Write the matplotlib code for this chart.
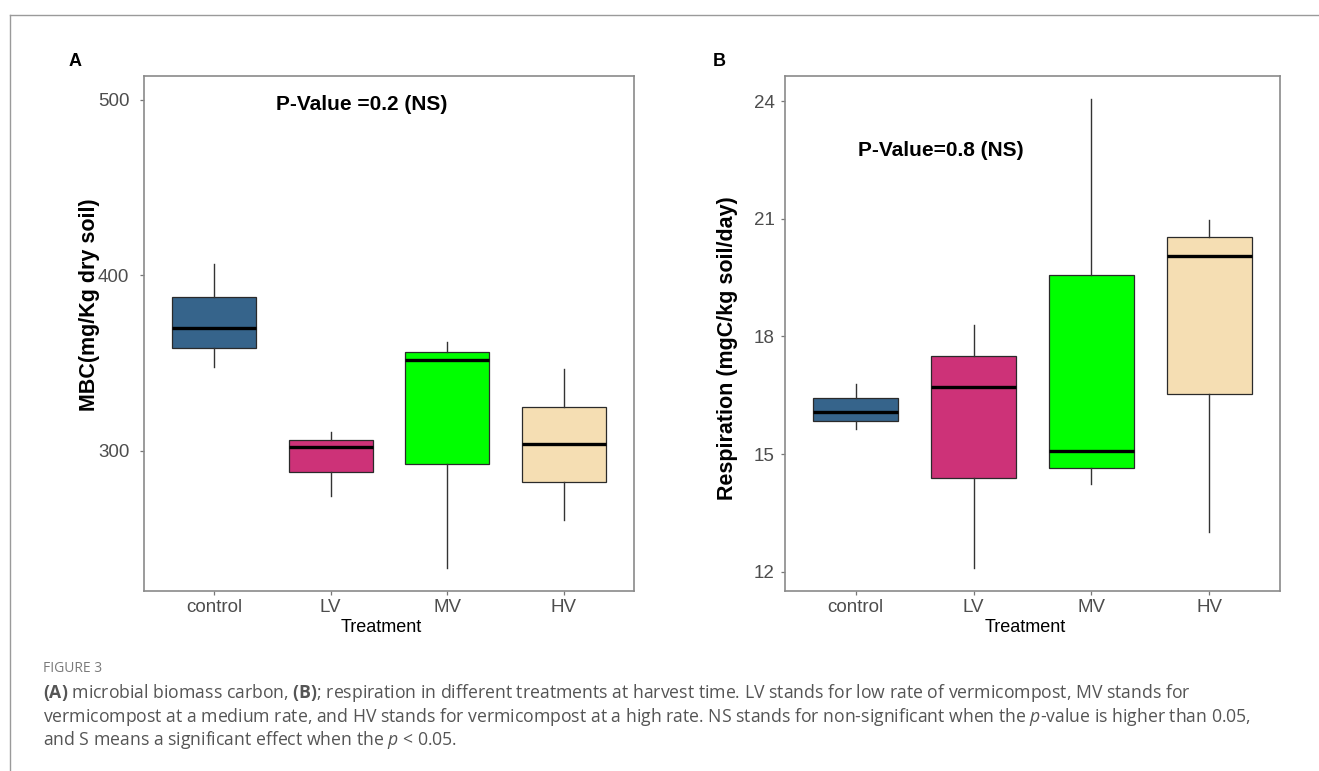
import matplotlib
matplotlib.use("Agg")
import matplotlib.pyplot as plt
from matplotlib import font_manager as fm
from matplotlib.lines import Line2D

# ---------------- data ----------------
treatments = ["control", "LV", "MV", "HV"]
box_colors = ["#36648B", "#CD3278", "#00FF00", "#F5DEB3"]

# Panel A: MBC (mg/Kg dry soil)
mbc_whislo = [347.6, 274.3, 233.3, 260.5]
mbc_q1 = [358.6, 288.2, 292.5, 282.5]
mbc_med = [370.0, 302.2, 351.8, 303.9]
mbc_q3 = [387.3, 306.1, 356.4, 324.8]
mbc_whishi = [406.4, 310.5, 362.1, 346.5]
mbc_ticks = [300, 400, 500]

# Panel B: Respiration (mgC/kg soil/day)
resp_whislo = [15.63, 12.10, 14.23, 13.02]
resp_q1 = [15.85, 14.40, 14.65, 16.53]
resp_med = [16.07, 16.71, 15.08, 20.04]
resp_q3 = [16.44, 17.50, 19.56, 20.54]
resp_whishi = [16.78, 18.30, 24.05, 20.98]
resp_ticks = [12, 15, 18, 21, 24]

# ---------------- fonts ----------------
avail = {f.name for f in fm.fontManager.ttflist}
narrow = [f for f in ["Liberation Sans Narrow", "Liberation Sans", "DejaVu Sans"] if f in avail]
cap_font = [f for f in ["Open Sans", "Noto Sans", "DejaVu Sans"] if f in avail][0]

plt.rcParams["mathtext.fontset"] = "custom"
plt.rcParams["mathtext.rm"] = cap_font
plt.rcParams["mathtext.it"] = cap_font + ":italic"
plt.rcParams["mathtext.bf"] = cap_font + ":bold"

W, H = 1319, 771
fig = plt.figure(figsize=(W / 100, H / 100), dpi=100)


def fx(px):
    return px / W


def fy(py):
    return 1 - py / H


def make_panel(rect, whislo, q1, med, q3, whishi, ticks, ylim, ylabel, ylab_pos,
               ptxt, ptxt_xy, ypad):
    ax = fig.add_axes(rect)
    stats = []
    for i in range(len(treatments)):
        stats.append(dict(whislo=whislo[i], q1=q1[i], med=med[i], q3=q3[i],
                          whishi=whishi[i], fliers=[]))
    bp = ax.bxp(stats, positions=range(1, len(treatments) + 1), widths=0.72,
                patch_artist=True, showcaps=False, showfliers=False,
                boxprops=dict(linewidth=0.9, edgecolor="#2a2a2a"),
                whiskerprops=dict(linewidth=1.0, color="#333333"),
                medianprops=dict(linewidth=2.4, color="black"))
    for patch, c in zip(bp["boxes"], box_colors):
        patch.set_facecolor(c)
    ax.set_xlim(0.4, 4.6)
    ax.set_ylim(*ylim)
    ax.set_xticks(range(1, len(treatments) + 1))
    ax.set_xticklabels(treatments)
    ax.set_yticks(ticks)
    ax.set_yticklabels([str(t) for t in ticks])
    for lab in ax.get_xticklabels() + ax.get_yticklabels():
        lab.set_fontfamily(narrow)
        lab.set_fontsize(13.5)
        lab.set_color("#4d4d4d")
    ax.tick_params(axis="both", length=3, width=0.9, color="#777777")
    ax.tick_params(axis="x", pad=3)
    ax.tick_params(axis="y", pad=ypad)
    for sp in ax.spines.values():
        sp.set_color("#8a8a8a")
        sp.set_linewidth(1.2)
    ax.set_ylabel(ylabel, fontfamily=narrow, fontsize=15.5, fontweight="bold",
                  color="black")
    ax.yaxis.set_label_coords(*ylab_pos)
    ax.text(ptxt_xy[0], ptxt_xy[1], ptxt, fontfamily=narrow, fontsize=15,
            fontweight="bold", ha="center", va="center", color="black")
    return ax


axA = make_panel([fx(144), fy(591), fx(634 - 144), (591 - 76) / H],
                 mbc_whislo, mbc_q1, mbc_med, mbc_q3, mbc_whishi, mbc_ticks,
                 (220.2, 513.4), "MBC(mg/Kg dry soil)", (-0.09, 0.556),
                 "P-Value =0.2 (NS)", (2.27, 497), 7.5)
axB = make_panel([fx(785), fy(591), fx(1280 - 785), (591 - 76) / H],
                 resp_whislo, resp_q1, resp_med, resp_q3, resp_whishi, resp_ticks,
                 (11.51, 24.64), "Respiration (mgC/kg soil/day)", (-0.095, 0.471),
                 "P-Value=0.8 (NS)", (1.72, 22.75), 4.5)

# Treatment labels
for xc in (381, 1025):
    fig.text(fx(xc), fy(632), "Treatment", fontfamily=narrow, fontsize=13,
             ha="center", va="baseline", color="black")

# panel letters
fig.text(fx(75), fy(61), "A", fontsize=13, fontweight="bold",
         fontfamily="Liberation Sans", ha="center", va="center")
fig.text(fx(719), fy(61), "B", fontsize=13, fontweight="bold",
         fontfamily="Liberation Sans", ha="center", va="center")

# outer frame lines
fig.add_artist(Line2D([fx(10), fx(10)], [fy(15), 0], color="#9a9a9a", lw=1.0))
fig.add_artist(Line2D([fx(10), 1], [fy(15), fy(15)], color="#9a9a9a", lw=1.0))

# caption
fig.text(fx(43), fy(669), "FIGURE 3", fontfamily=cap_font, fontsize=10,
         color="#7a7a7a", ha="left", va="center")
cap_lines = [
    r"$\bf{(A)}$ microbial biomass carbon, $\bf{(B)}$; respiration in different treatments at harvest time. LV stands for low rate of vermicompost, MV stands for",
    r"vermicompost at a medium rate, and HV stands for vermicompost at a high rate. NS stands for non-significant when the $\it{p}$-value is higher than 0.05,",
    r"and S means a significant effect when the $\it{p}$ < 0.05.",
]
cap_y = [693, 717, 740]
texts = []
for s, yy in zip(cap_lines, cap_y):
    t = fig.text(fx(43), fy(yy), s, fontfamily=cap_font, fontsize=10,
                 color="#555555", ha="left", va="center")
    texts.append(t)
# fit caption size so line 1 spans to ~x=1193
fig.canvas.draw()
r = fig.canvas.get_renderer()
w1 = texts[0].get_window_extent(r).width
scale = (1193 - 43) / w1
for t in texts:
    t.set_fontsize(10 * scale)

fig.savefig("out.png", dpi=100)
